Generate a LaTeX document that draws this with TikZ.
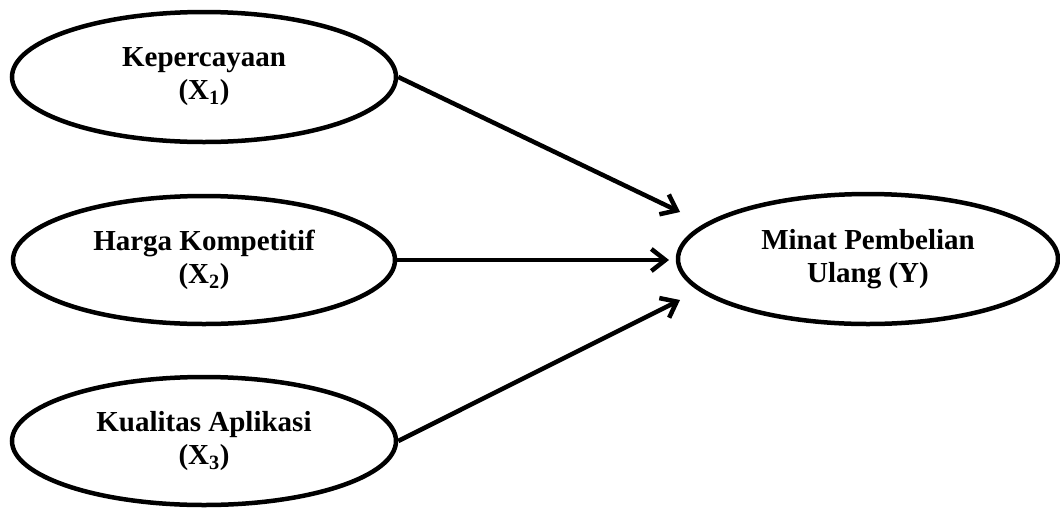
\documentclass[tikz,border=0pt]{standalone}
\usepackage{fontspec}
\setmainfont{Liberation Serif}
\usetikzlibrary{shapes.geometric,arrows.meta}
\begin{document}
\begin{tikzpicture}[x=1pt,y=-1pt,
  var/.style={draw=black, line width=4.5pt, ellipse, inner sep=0pt, align=center,
    font=\fontsize{29}{33}\selectfont\bfseries},
  link/.style={line width=4.5pt, -{Straight Barb[length=14pt,width=22pt,line width=4.5pt]}}]
\useasboundingbox (0,0) rectangle (1060,507);
\node[var, minimum width=384pt, minimum height=130pt] (x1) at (204,77) {Kepercayaan\\(X\textsubscript{1})};
\node[var, minimum width=382pt, minimum height=128pt] (x2) at (204,260) {Harga Kompetitif\\(X\textsubscript{2})};
\node[var, minimum width=384pt, minimum height=128pt] (x3) at (204,441) {Kualitas Aplikasi\\(X\textsubscript{3})};
\node[var, minimum width=380pt, minimum height=130pt] (y) at (868,259) {Minat Pembelian\\Ulang (Y)};
\coordinate (t1) at (680,212);
\coordinate (t2) at (669,260);
\coordinate (t3) at (680,300);
\draw[link] (x1.east) -- (t1);
\draw[link] (x2.east) -- (t2);
\draw[link] (x3.east) -- (t3);
\end{tikzpicture}
\end{document}
